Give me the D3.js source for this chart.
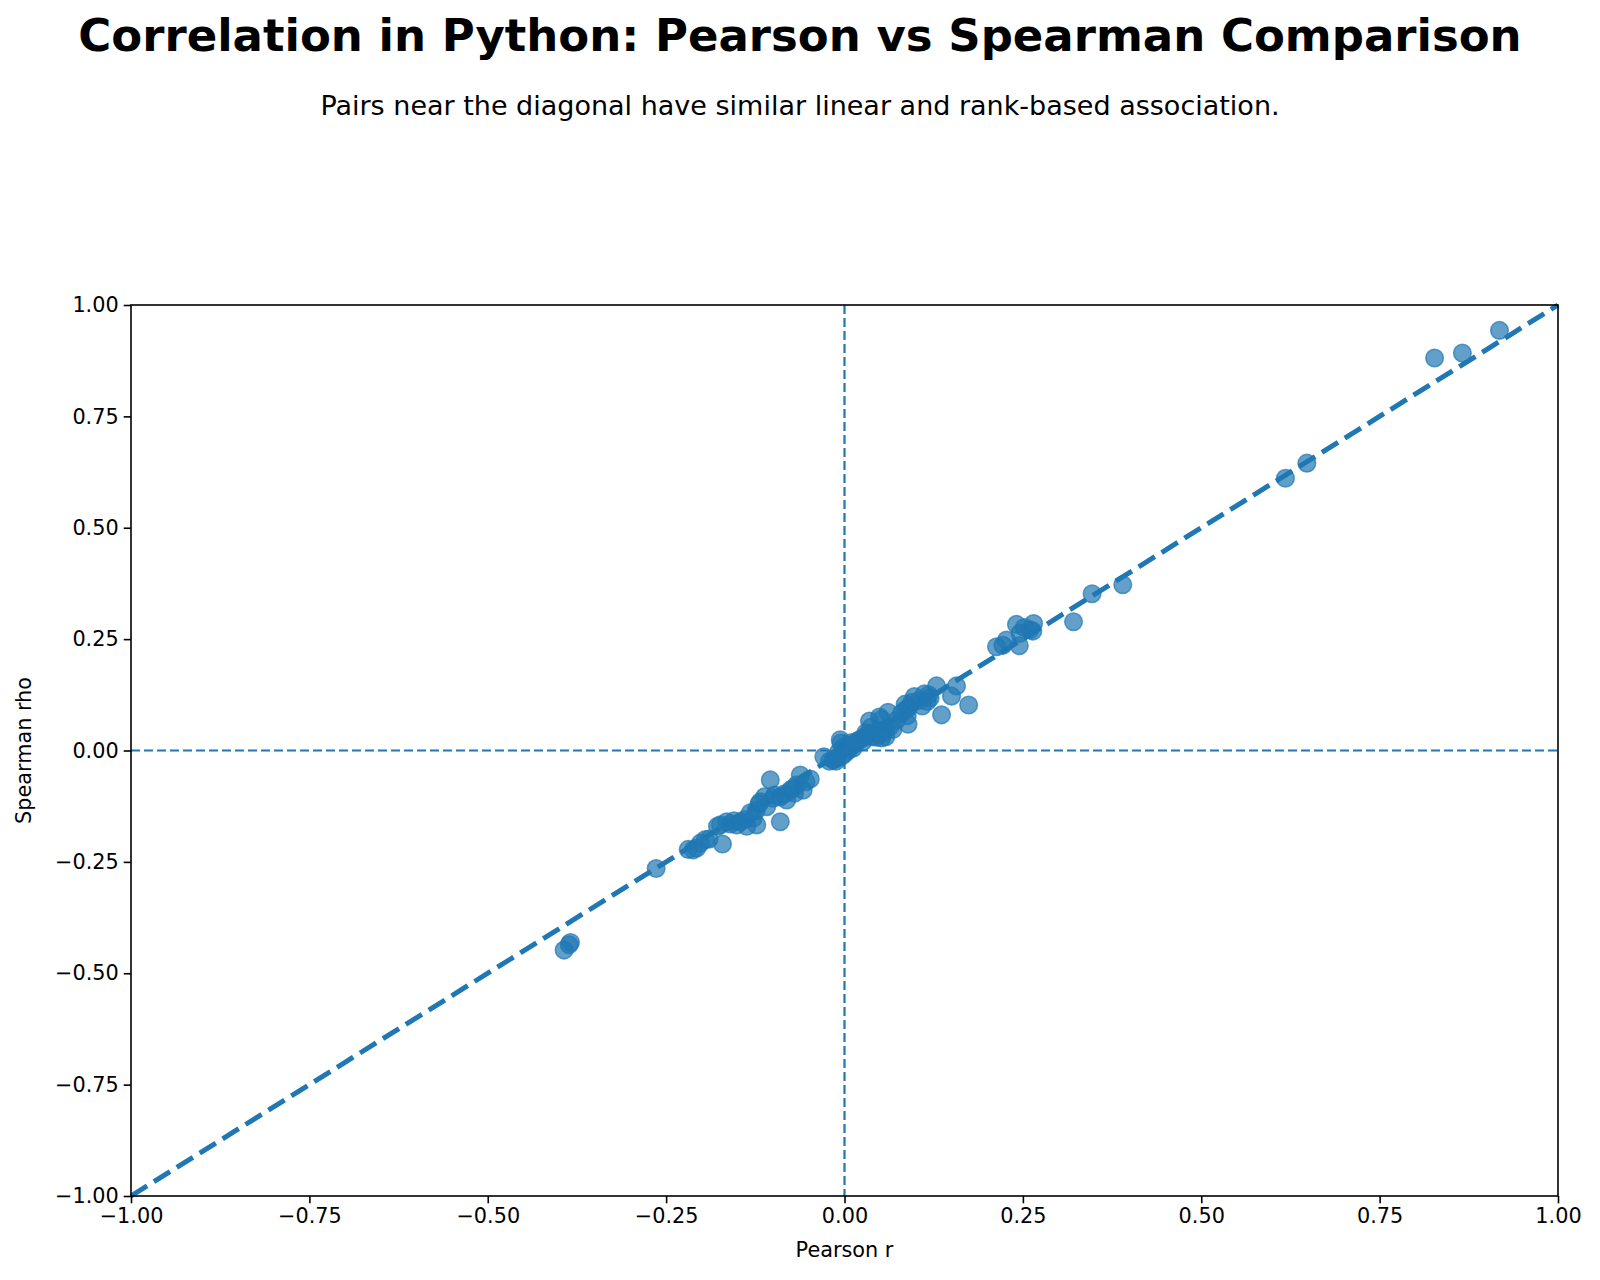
<!DOCTYPE html>
<html>
<head>
<meta charset="utf-8">
<script src="https://cdn.jsdelivr.net/npm/d3@7"></script>
<style>
    body { margin: 0; background: #fff; }
    svg text { font-family: "DejaVu Sans", sans-serif; fill: #000; }
</style>
</head>
<body>
<div id="canvas"></div>
<script>
// Pearson r and Spearman rho for each variable pair
var pearson = [
    0.918, 0.866, 0.827, 0.648, 0.618, 0.390, 0.347, 0.321, 0.265, 0.260,
    0.241, 0.246, 0.245, 0.227, 0.222, 0.213, 0.252, 0.264, 0.174, 0.157,
    0.150, 0.136, 0.129, 0.118, 0.112, 0.109, 0.104, 0.098, 0.094, 0.090,
    0.088, 0.089, 0.085, 0.086, 0.120, 0.116, 0.061, 0.058, 0.052, 0.049,
    0.046, 0.042, 0.035, 0.037, 0.032, 0.028, 0.022, 0.018, 0.015, 0.009,
    0.005, 0.002, -0.002, -0.006, -0.005, -0.008, -0.013, -0.021, -0.016, -0.029,
    0.001, 0.006, 0.058, 0.055, 0.049, 0.039, 0.068, 0.064, 0.073, 0.080,
    0.045, 0.052, 0.030, 0.026, 0.012, 0.010, -0.003, -0.010, -0.012,
    -0.048, -0.054, -0.062, -0.058, -0.067, -0.076, -0.081, -0.085, -0.090, -0.100,
    -0.104, -0.109, -0.112, -0.118, -0.120, -0.124, -0.128, -0.123, -0.090, -0.137,
    -0.140, -0.146, -0.151, -0.155, -0.160, -0.165, -0.171, -0.174, -0.178, -0.190,
    -0.195, -0.202, -0.207, -0.212, -0.219, -0.264, -0.384, -0.386, -0.393, -0.098,
    -0.072, -0.132, -0.070
];
var spearman = [
    0.943, 0.892, 0.881, 0.645, 0.611, 0.372, 0.352, 0.289, 0.285, 0.271,
    0.283, 0.263, 0.235, 0.248, 0.236, 0.233, 0.276, 0.268, 0.102, 0.145,
    0.122, 0.080, 0.145, 0.125, 0.127, 0.100, 0.112, 0.121, 0.108, 0.096,
    0.078, 0.059, 0.104, 0.092, 0.118, 0.110, 0.086, 0.049, 0.070, 0.075,
    0.036, 0.041, 0.066, 0.052, 0.036, 0.029, 0.025, 0.021, 0.015, 0.010,
    0.013, 0.008, 0.006, 0.024, 0.017, -0.003, -0.019, -0.024, -0.021, -0.014,
    -0.006, 0.001, 0.031, 0.040, 0.045, 0.031, 0.047, 0.054, 0.068, 0.084,
    0.030, 0.028, 0.040, 0.020, 0.005, 0.018, -0.012, -0.016, -0.024,
    -0.064, -0.070, -0.055, -0.089, -0.077, -0.089, -0.111, -0.098, -0.104, -0.107,
    -0.066, -0.126, -0.104, -0.115, -0.120, -0.135, -0.152, -0.167, -0.160, -0.170,
    -0.155, -0.160, -0.167, -0.158, -0.165, -0.160, -0.210, -0.167, -0.170, -0.199,
    -0.200, -0.208, -0.219, -0.223, -0.222, -0.265, -0.431, -0.436, -0.448, -0.100,
    -0.085, -0.140, -0.096
];
var tickValues = [-1, -0.75, -0.5, -0.25, 0, 0.25, 0.5, 0.75, 1];

var titleText = "Correlation in Python: Pearson vs Spearman Comparison";
var subtitleText = "Pairs near the diagonal have similar linear and rank-based association.";

var blue = "#1f77b4";
var margin = {top: 305, right: 42, bottom: 84, left: 131};
var W = 1600, H = 1280;
var width = W - margin.left - margin.right;
var height = H - margin.top - margin.bottom;

var svg = d3.select("#canvas")
    .append("svg")
        .attr("width", W)
        .attr("height", H);

svg.append("text")
    .attr("x", 800)
    .attr("y", 51)
    .attr("text-anchor", "middle")
    .style("font-size", "45px")
    .style("font-weight", "bold")
    .text(titleText);

svg.append("text")
    .attr("x", 800)
    .attr("y", 115)
    .attr("text-anchor", "middle")
    .style("font-size", "27px")
    .text(subtitleText);

var g = svg.append("g")
    .attr("transform", "translate(" + margin.left + "," + margin.top + ")");

var xScale = d3.scaleLinear().domain([-1, 1]).range([0, width]);
var yScale = d3.scaleLinear().domain([-1, 1]).range([height, 0]);

// zero reference lines
g.append("line")
    .attr("x1", 0).attr("x2", width)
    .attr("y1", yScale(0)).attr("y2", yScale(0))
    .attr("stroke", blue)
    .attr("stroke-width", 2.2)
    .attr("stroke-dasharray", "9,4");
g.append("line")
    .attr("x1", xScale(0)).attr("x2", xScale(0))
    .attr("y1", 0).attr("y2", height)
    .attr("stroke", blue)
    .attr("stroke-width", 2.2)
    .attr("stroke-dasharray", "9,4");

// scatter
g.selectAll("circle.pt")
    .data(pearson)
    .enter().append("circle")
    .attr("class", "pt")
    .attr("cx", function(d) { return xScale(d); })
    .attr("cy", function(d, i) { return yScale(spearman[i]); })
    .attr("r", 8.8)
    .attr("fill", blue)
    .attr("fill-opacity", 0.7)
    .attr("stroke", blue)
    .attr("stroke-opacity", 0.7)
    .attr("stroke-width", 1.5);

// y = x diagonal
g.append("line")
    .attr("x1", xScale(-1)).attr("y1", yScale(-1))
    .attr("x2", xScale(1)).attr("y2", yScale(1))
    .attr("stroke", blue)
    .attr("stroke-width", 5)
    .attr("stroke-dasharray", "19,8");

var xAxis = d3.axisBottom(xScale)
    .tickValues(tickValues)
    .tickFormat(d3.format(".2f"))
    .tickSizeInner(7.3).tickSizeOuter(0).tickPadding(5);
var yAxis = d3.axisLeft(yScale)
    .tickValues(tickValues)
    .tickFormat(d3.format(".2f"))
    .tickSizeInner(7.3).tickSizeOuter(0).tickPadding(5);

var gx = g.append("g")
    .attr("transform", "translate(0," + height + ")")
    .call(xAxis);
var gy = g.append("g").call(yAxis);

[gx, gy].forEach(function(a) {
    a.select(".domain").remove();
    a.selectAll(".tick line").attr("stroke", "#000").attr("stroke-width", 1.6);
    a.selectAll(".tick text")
        .style("font-size", "20.8px")
        .style("font-family", "DejaVu Sans");
});

// frame
g.append("rect")
    .attr("width", width)
    .attr("height", height)
    .attr("fill", "none")
    .attr("stroke", "#000")
    .attr("stroke-width", 1.6);

svg.append("text")
    .attr("x", margin.left + width / 2)
    .attr("y", 1257)
    .attr("text-anchor", "middle")
    .style("font-size", "20.8px")
    .text("Pearson r");

svg.append("text")
    .attr("transform", "translate(31," + (margin.top + height / 2) + ") rotate(-90)")
    .attr("text-anchor", "middle")
    .style("font-size", "20.8px")
    .text("Spearman rho");
</script>
</body>
</html>
